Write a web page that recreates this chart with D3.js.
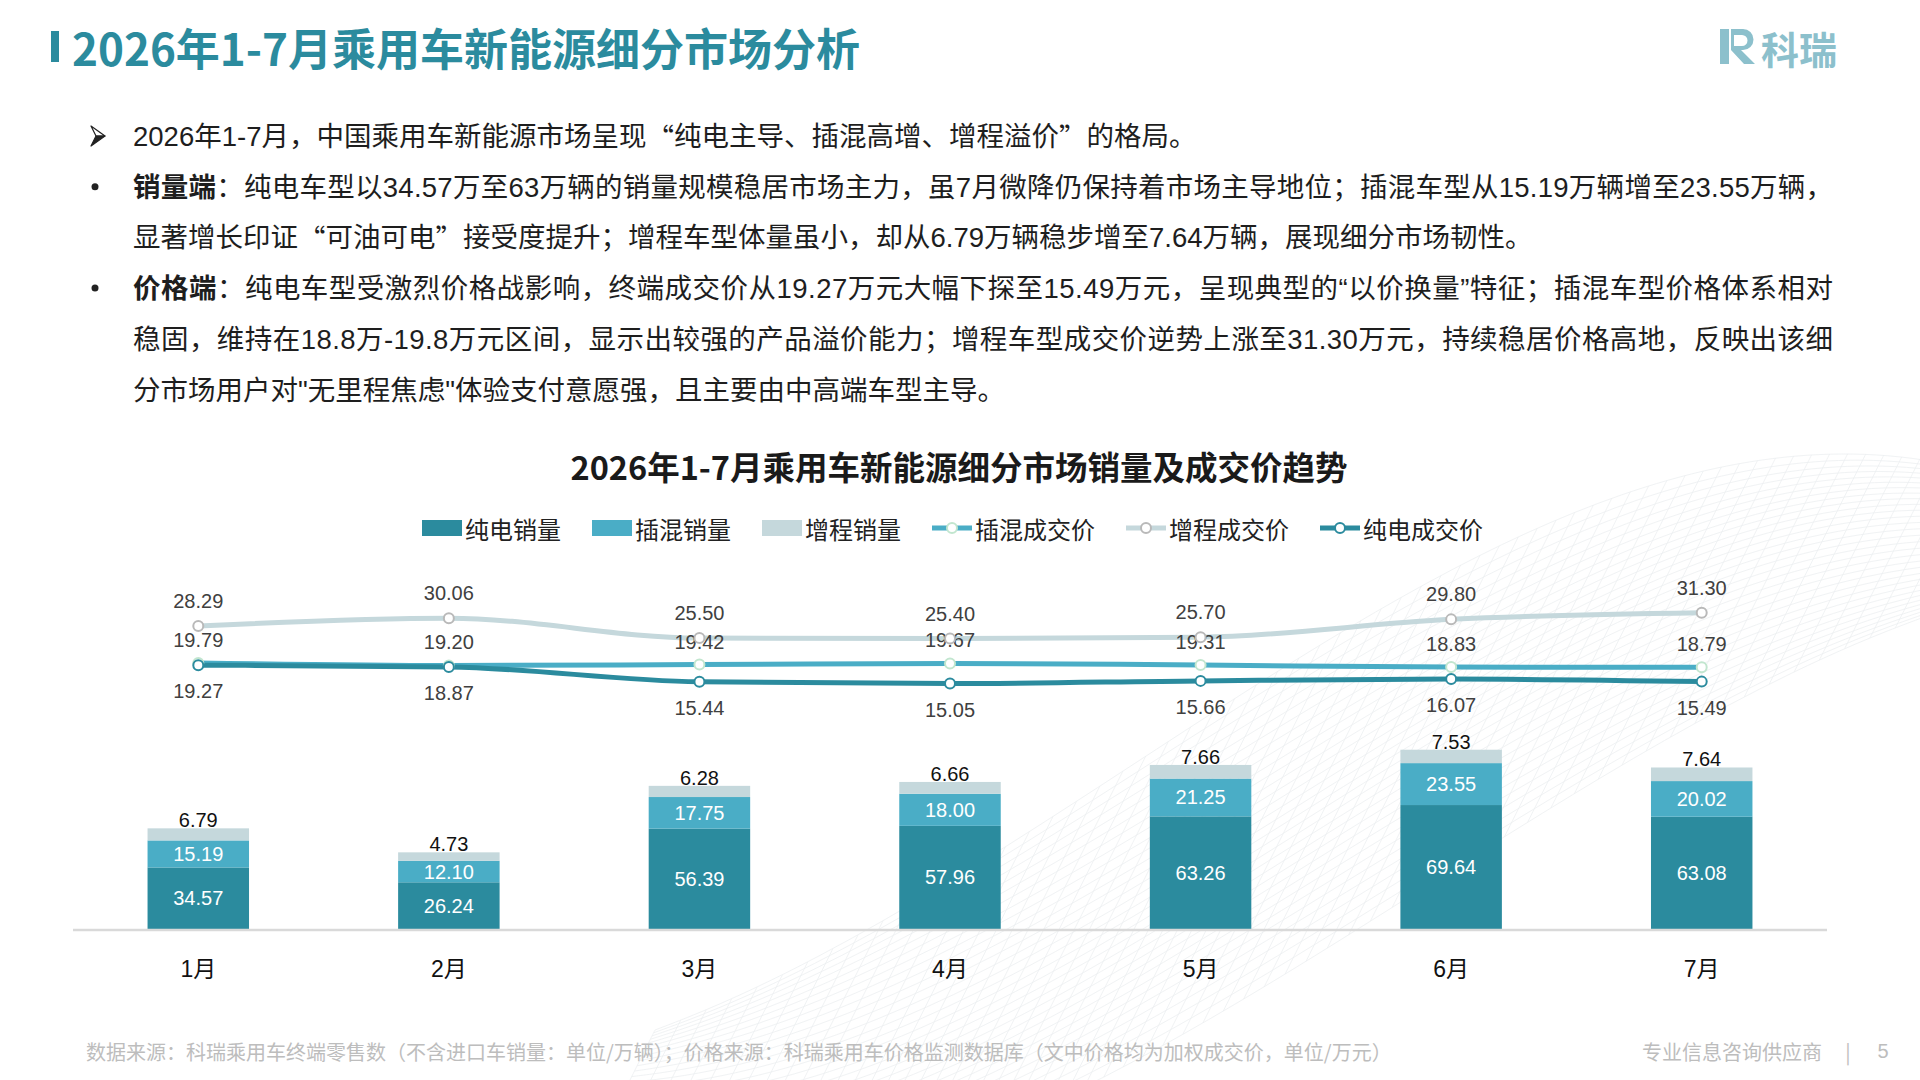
<!DOCTYPE html>
<html>
<head>
<meta charset="utf-8">
<script src="https://cdn.jsdelivr.net/npm/d3@7"></script>
<style>
  body { margin: 0; background: #fff; }
  svg { display: block; }
</style>
</head>
<body>
<div id="chart"></div>
<script>
// data
var months = ["1月", "2月", "3月", "4月", "5月", "6月", "7月"];
var bevSales = [34.57, 26.24, 56.39, 57.96, 63.26, 69.64, 63.08];
var phevSales = [15.19, 12.10, 17.75, 18.00, 21.25, 23.55, 20.02];
var erevSales = [6.79, 4.73, 6.28, 6.66, 7.66, 7.53, 7.64];
var phevPrice = [19.79, 19.20, 19.42, 19.67, 19.31, 18.83, 18.79];
var erevPrice = [28.29, 30.06, 25.50, 25.40, 25.70, 29.80, 31.30];
var bevPrice = [19.27, 18.87, 15.44, 15.05, 15.66, 16.07, 15.49];

var legendNames = ["纯电销量", "插混销量", "增程销量", "插混成交价", "增程成交价", "纯电成交价"];

(function() {
  var width = 1920, height = 1080;
  var cjk = "'Noto Sans CJK SC', 'Noto Sans', sans-serif";
  var num = "'Liberation Sans', Arial, 'Noto Sans CJK SC', sans-serif";

  var cDark = "#2b8b9e", cMid = "#4aadc6", cLight = "#c5d8dc";

  var svg = d3.select("#chart")
    .append("svg")
    .attr("width", width)
    .attr("height", height);

  // faint mesh in the background, bottom middle to right
  var mesh = svg.append("g").attr("fill", "none").attr("stroke", "#e3e6e9").attr("stroke-width", 0.7).attr("opacity", 0.7);
  var meshLine = d3.line().curve(d3.curveBasis);
  function meshPt(t, u) {
    var s = t * t * (3 - 2 * t);
    var cx = 620 + 1340 * t;
    var cy = 1100 - 560 * s;
    var w = 140 + 300 * Math.sin(Math.PI * t) + 40 * Math.sin(6 * t + u * 3);
    return [cx - (u - 0.5) * w * 0.5, cy + (u - 0.5) * w];
  }
  d3.range(0, 1.0001, 1 / 30).forEach(function(u) {
    mesh.append("path").attr("d", meshLine(d3.range(0, 1.0001, 0.02).map(function(t) { return meshPt(t, u); })));
  });
  d3.range(0, 1.0001, 1 / 64).forEach(function(t) {
    mesh.append("path").attr("d", meshLine(d3.range(0, 1.0001, 0.05).map(function(u) { return meshPt(t, u); })));
  });

  // title
  svg.append("rect")
    .attr("x", 51).attr("y", 31).attr("width", 8).attr("height", 31)
    .attr("fill", "#2b8b9e");
  svg.append("text")
    .attr("x", 72).attr("y", 47)
    .attr("dominant-baseline", "central")
    .style("font-family", cjk).style("font-size", "44px").style("font-weight", "700")
    .attr("fill", "#2b8b9e")
    .text("2026年1-7月乘用车新能源细分市场分析");

  // logo
  var logo = svg.append("g").attr("fill", "#8cc0cc");
  logo.append("rect").attr("x", 1720).attr("y", 29).attr("width", 9).attr("height", 35);
  logo.append("path").attr("d", "M1731,29 H1743 A10.5,10.5 0 0 1 1743,50 H1741 L1755,64 H1744 L1731,50 Z M1734,35 L1734,46 L1742,46 A5.5,5.5 0 0 0 1742,35 Z")
    .attr("fill-rule", "evenodd");
  logo.append("text")
    .attr("x", 1761).attr("y", 47)
    .attr("dominant-baseline", "central")
    .style("font-family", cjk).style("font-size", "38px").style("font-weight", "700")
    .text("科瑞");

  // paragraph
  var bodyLines = [
    { bullet: "arrow", segs: [["2026年1-7月，中国乘用车新能源市场呈现“纯电主导、插混高增、增程溢价”的格局。", 0]] },
    { bullet: "dot", justify: true, segs: [["销量端", 1], ["：纯电车型以34.57万至63万辆的销量规模稳居市场主力，虽7月微降仍保持着市场主导地位；插混车型从15.19万辆增至23.55万辆，", 0]] },
    { segs: [["显著增长印证“可油可电”接受度提升；增程车型体量虽小，却从6.79万辆稳步增至7.64万辆，展现细分市场韧性。", 0]] },
    { bullet: "dot", justify: true, segs: [["价格端", 1], ["：纯电车型受激烈价格战影响，终端成交价从19.27万元大幅下探至15.49万元，呈现典型的", 0], ["“以价换量”", 2], ["特征；插混车型价格体系相对", 0]] },
    { justify: true, segs: [["稳固，维持在18.8万-19.8万元区间，显示出较强的产品溢价能力；增程车型成交价逆势上涨至31.30万元，持续稳居价格高地，反映出该细", 0]] },
    { segs: [["分市场用户对\"无里程焦虑\"体验支付意愿强，且主要由中高端车型主导。", 0]] }
  ];
  var textX = 133, textRight = 1833;
  bodyLines.forEach(function(l, i) {
    var y = 136 + i * 50.7;
    if (l.bullet == "arrow") {
      var a = svg.append("g").attr("transform", "translate(91," + (y - 10) + ")");
      a.append("path").attr("d", "M0,0 L14,10 L5,10 Z")
        .attr("fill", "#fff").attr("stroke", "#222").attr("stroke-width", 1.2).attr("stroke-linejoin", "round");
      a.append("path").attr("d", "M5,10 L14,10 L0,20 Z").attr("fill", "#222")
        .attr("stroke", "#222").attr("stroke-width", 1.2).attr("stroke-linejoin", "round");
    } else if (l.bullet) {
      svg.append("circle").attr("cx", 95).attr("cy", y).attr("r", 3.5).attr("fill", "#222");
    }
    var t = svg.append("text").attr("x", textX).attr("y", y)
      .attr("dominant-baseline", "central")
      .style("font-family", num).style("font-size", "27.5px")
      .attr("fill", "#1e1e1e");
    l.segs.forEach(function(s) {
      // curly quotes: full width from the CJK font, except where flagged narrow (2)
      s[0].split(/([“”])/).forEach(function(part) {
        if (!part) return;
        var ts = t.append("tspan").style("font-weight", s[1] == 1 ? "700" : "400").text(part);
        if ((part == "“" || part == "”") && s[1] != 2) ts.style("font-family", cjk);
      });
    });
    if (l.justify) {
      var n = l.segs.map(function(s) { return s[0]; }).join("").length;
      var w = t.node().getComputedTextLength();
      t.style("letter-spacing", ((textRight - textX - w) / (n - 1)) + "px");
    }
  });

  // chart title
  svg.append("text")
    .attr("x", 959).attr("y", 465)
    .attr("text-anchor", "middle").attr("dominant-baseline", "central")
    .style("font-family", cjk).style("font-size", "32.5px").style("font-weight", "700")
    .attr("fill", "#1a1a1a")
    .text("2026年1-7月乘用车新能源细分市场销量及成交价趋势");

  // legend
  var legendItems = [
    { type: "bar", color: cDark },
    { type: "bar", color: cMid },
    { type: "bar", color: cLight },
    { type: "line", color: cMid, ring: "#c2e6cf" },
    { type: "line", color: cLight, ring: "#b9b9b9" },
    { type: "line", color: cDark, ring: cDark }
  ];
  var lx = 422, ly = 528;
  legendItems.forEach(function(d, i) {
    var g = svg.append("g").attr("transform", "translate(" + lx + "," + ly + ")");
    if (d.type == "bar") {
      g.append("rect").attr("x", 0).attr("y", -8).attr("width", 40).attr("height", 16).attr("fill", d.color);
    } else {
      g.append("line").attr("x1", 0).attr("x2", 40).attr("y1", 0).attr("y2", 0)
        .attr("stroke", d.color).attr("stroke-width", 5);
      g.append("circle").attr("cx", 20).attr("cy", 0).attr("r", 5)
        .attr("fill", "#fff").attr("stroke", d.ring).attr("stroke-width", 2);
    }
    var t = g.append("text").attr("x", 43).attr("y", 0)
      .attr("dominant-baseline", "central")
      .style("font-family", cjk).style("font-size", "24px")
      .attr("fill", "#222").text(legendNames[i]);
    lx += 43 + t.node().getComputedTextLength() + 31;
  });

  // scales
  var xScale = d3.scaleBand().domain(months).range([73, 1827]).paddingInner(0.595).paddingOuter(0.2975);
  var ySales = d3.scaleLinear().domain([0, 200]).range([929, 573]);
  var yPrice = d3.scaleLinear().domain([0, 40]).range([749, 575]);

  var table = months.map(function(m, i) {
    return { month: m, bev: bevSales[i], phev: phevSales[i], erev: erevSales[i] };
  });
  var stack = d3.stack().keys(["bev", "phev", "erev"])(table);
  var segColors = { bev: cDark, phev: cMid, erev: cLight };

  stack.forEach(function(layer) {
    svg.selectAll(".bar-" + layer.key)
      .data(layer)
      .enter().append("rect")
      .attr("class", "bar-" + layer.key)
      .attr("x", function(d) { return xScale(d.data.month); })
      .attr("y", function(d) { return ySales(d[1]); })
      .attr("width", xScale.bandwidth())
      .attr("height", function(d) { return ySales(d[0]) - ySales(d[1]); })
      .attr("fill", segColors[layer.key]);
  });

  // bar labels
  stack.forEach(function(layer) {
    svg.selectAll(".barlabel-" + layer.key)
      .data(layer)
      .enter().append("text")
      .attr("class", "barlabel-" + layer.key)
      .attr("x", function(d) { return xScale(d.data.month) + xScale.bandwidth() / 2; })
      .attr("y", function(d) {
        if (layer.key == "erev") return ySales(d[1]) - 8;
        return (ySales(d[0]) + ySales(d[1])) / 2;
      })
      .attr("text-anchor", "middle").attr("dominant-baseline", "central")
      .style("font-family", num).style("font-size", "20px")
      .attr("fill", layer.key == "erev" ? "#111" : "#fff")
      .text(function(d) { return d.data[layer.key].toFixed(2); });
  });

  // x axis
  svg.append("line")
    .attr("x1", 73).attr("x2", 1827).attr("y1", 930).attr("y2", 930)
    .attr("stroke", "#d9d9d9").attr("stroke-width", 2.5);

  svg.selectAll(".month")
    .data(months)
    .enter().append("text")
    .attr("class", "month")
    .attr("x", function(d) { return xScale(d) + xScale.bandwidth() / 2; })
    .attr("y", 969)
    .attr("text-anchor", "middle").attr("dominant-baseline", "central")
    .style("font-family", num).style("font-size", "23px")
    .attr("fill", "#111")
    .text(function(d) { return d; });

  // price lines
  var series = [
    { values: phevPrice, color: cMid, ring: "#c2e6cf", dy: -23 },
    { values: erevPrice, color: cLight, ring: "#b9b9b9", dy: -25 },
    { values: bevPrice, color: cDark, ring: cDark, dy: 26 }
  ];
  var line = d3.line()
    .x(function(d, i) { return xScale(months[i]) + xScale.bandwidth() / 2; })
    .y(function(d) { return yPrice(d); })
    .curve(d3.curveMonotoneX);

  series.forEach(function(s) {
    svg.append("path")
      .attr("d", line(s.values))
      .attr("fill", "none")
      .attr("stroke", s.color)
      .attr("stroke-width", 5);
  });
  series.forEach(function(s, k) {
    svg.selectAll(".pt" + k)
      .data(s.values)
      .enter().append("circle")
      .attr("class", "pt" + k)
      .attr("cx", function(d, i) { return xScale(months[i]) + xScale.bandwidth() / 2; })
      .attr("cy", function(d) { return yPrice(d); })
      .attr("r", 5)
      .attr("fill", "#fff")
      .attr("stroke", s.ring)
      .attr("stroke-width", 2);
    svg.selectAll(".pl" + k)
      .data(s.values)
      .enter().append("text")
      .attr("class", "pl" + k)
      .attr("x", function(d, i) { return xScale(months[i]) + xScale.bandwidth() / 2; })
      .attr("y", function(d) { return yPrice(d) + s.dy; })
      .attr("text-anchor", "middle").attr("dominant-baseline", "central")
      .style("font-family", num).style("font-size", "20px")
      .attr("fill", "#404040")
      .text(function(d) { return d.toFixed(2); });
  });

  // footer
  svg.append("text")
    .attr("x", 86).attr("y", 1051)
    .attr("dominant-baseline", "central")
    .style("font-family", cjk).style("font-size", "20px")
    .attr("fill", "#bdbdbd")
    .text("数据来源：科瑞乘用车终端零售数（不含进口车销量：单位/万辆）；价格来源：科瑞乘用车价格监测数据库（文中价格均为加权成交价，单位/万元）");
  svg.append("text")
    .attr("x", 1642).attr("y", 1051)
    .attr("dominant-baseline", "central")
    .style("font-family", cjk).style("font-size", "20px")
    .attr("fill", "#bdbdbd")
    .text("专业信息咨询供应商");
  svg.append("text")
    .attr("x", 1848).attr("y", 1051)
    .attr("text-anchor", "middle").attr("dominant-baseline", "central")
    .style("font-family", cjk).style("font-size", "20px")
    .attr("fill", "#bdbdbd").text("|");
  svg.append("text")
    .attr("x", 1883).attr("y", 1051)
    .attr("text-anchor", "middle").attr("dominant-baseline", "central")
    .style("font-family", num).style("font-size", "20px")
    .attr("fill", "#bdbdbd").text("5");
})();
</script>
</body>
</html>
